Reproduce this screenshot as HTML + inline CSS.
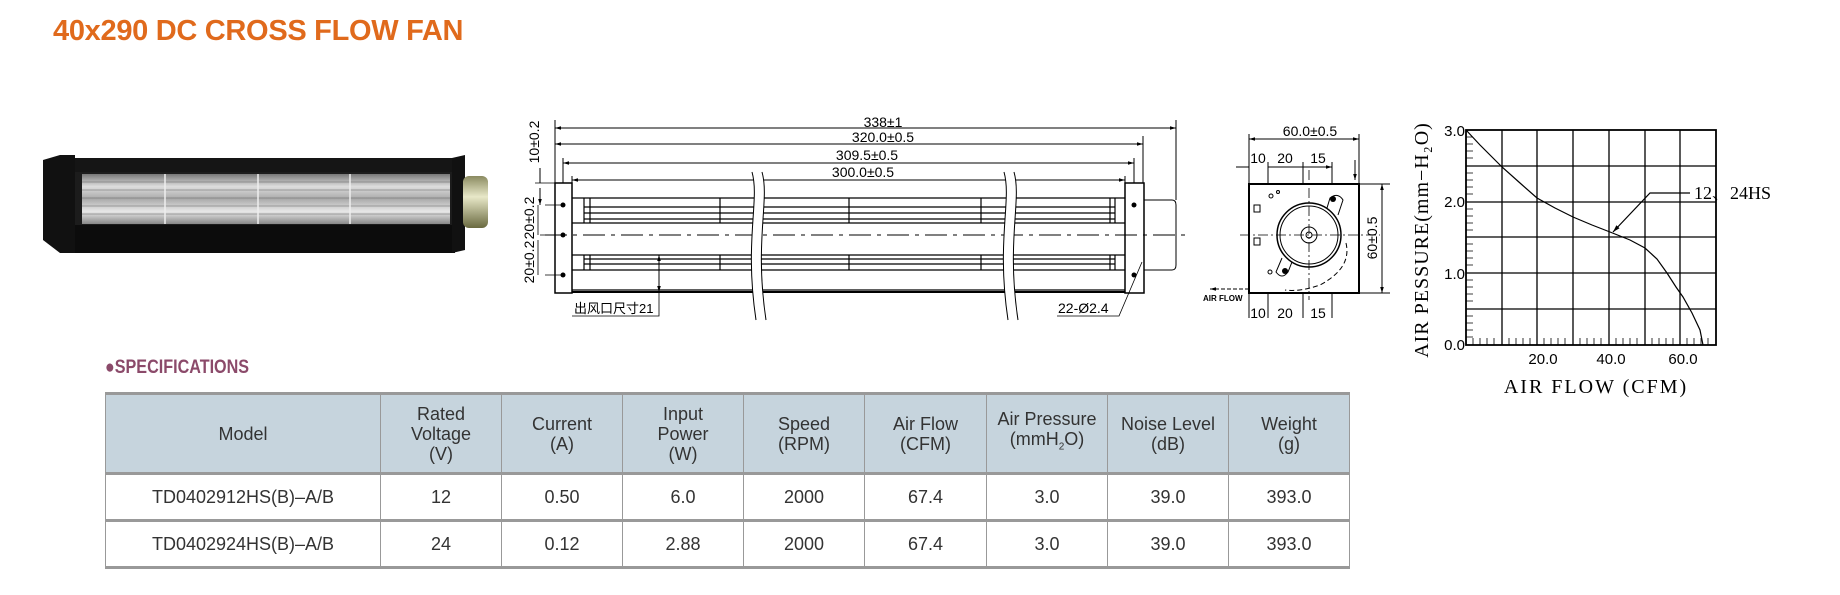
<!DOCTYPE html>
<html><head><meta charset="utf-8"><style>
body{margin:0;width:1840px;height:595px;background:#fff;position:relative;overflow:hidden;font-family:"Liberation Sans",sans-serif}
#t{position:absolute;left:53px;top:15px;font-size:29px;font-weight:bold;color:#e06a1c;white-space:nowrap;letter-spacing:-0.3px}
#s{position:absolute;left:105px;top:357px;font-size:19px;font-weight:bold;color:#8b4a6a;white-space:nowrap;transform:scaleX(0.85);transform-origin:left}
table{position:absolute;left:105px;top:392px;border-collapse:collapse;width:1244px;table-layout:fixed;color:#333;font-size:18px}
td{border:1px solid #999;text-align:center;padding:0;line-height:20px}
tr.h td{background:#c6d4dd;height:77px;border-bottom:3px solid #999;border-top:3px solid #999}
tr.r td{height:44px}
tr.r2 td{border-top:3px solid #999;border-bottom:3px solid #999}
svg{position:absolute;left:0;top:0}
</style></head><body>
<div id="t">40x290 DC CROSS FLOW FAN</div>
<svg width="1840" height="595" viewBox="0 0 1840 595" font-family="Liberation Sans, sans-serif">
<defs>
<linearGradient id="rot" x1="0" y1="0" x2="0" y2="1">
<stop offset="0" stop-color="#777"/><stop offset="0.25" stop-color="#ddd"/><stop offset="0.5" stop-color="#aaa"/><stop offset="0.75" stop-color="#e8e8e8"/><stop offset="1" stop-color="#888"/></linearGradient>
<linearGradient id="mot" x1="0" y1="0" x2="0" y2="1">
<stop offset="0" stop-color="#8a8a60"/><stop offset="0.4" stop-color="#e8e8c8"/><stop offset="1" stop-color="#6a6a40"/></linearGradient>
<marker id="a" viewBox="0 0 10 10" refX="10" refY="5" markerWidth="8" markerHeight="6" orient="auto-start-reverse"><path d="M0,2L10,5L0,8z" fill="#000"/></marker>
</defs>
<!-- photo -->
<polygon points="43,160 60,155 75,155 75,253 60,253 43,240" fill="#111"/>
<rect x="75" y="158" width="380" height="14" fill="#151515"/>
<rect x="75" y="225" width="380" height="28" fill="#0c0c0c"/>
<rect x="75" y="172" width="378" height="53" fill="#1c1c1c"/>
<rect x="82" y="174" width="368" height="50" fill="url(#rot)"/>
<g stroke="#666" stroke-width="0.8" opacity="0.7"><line x1="82" y1="182" x2="450" y2="182"/><line x1="82" y1="190" x2="450" y2="190"/><line x1="82" y1="198" x2="450" y2="198"/><line x1="82" y1="206" x2="450" y2="206"/><line x1="82" y1="214" x2="450" y2="214"/></g>
<g stroke="#eee" stroke-width="1.5"><line x1="165" y1="174" x2="165" y2="224"/><line x1="258" y1="174" x2="258" y2="224"/><line x1="350" y1="174" x2="350" y2="224"/></g>
<polygon points="452,158 465,155 465,250 452,253" fill="#111"/>
<rect x="463" y="176" width="25" height="52" rx="6" fill="url(#mot)"/>
<!-- main drawing dims -->
<g stroke="#000" stroke-width="1" fill="none">
<line x1="555" y1="128" x2="1176" y2="128" marker-start="url(#a)" marker-end="url(#a)"/>
<line x1="555" y1="144" x2="1143" y2="144" marker-start="url(#a)" marker-end="url(#a)"/>
<line x1="563" y1="163" x2="1134" y2="163" marker-start="url(#a)" marker-end="url(#a)"/>
<line x1="572" y1="180" x2="1125" y2="180" marker-start="url(#a)" marker-end="url(#a)"/>
<path d="M555,120V183M1176,120V200M1143,136V183M563,158V183M1134,158V183M572,176V183M1125,176V183"/>
<rect x="555" y="183" width="17" height="110" stroke-width="1.5"/>
<rect x="1125" y="183" width="19" height="110" stroke-width="1.5"/>
<path d="M1144,200H1172Q1176,200 1176,205V265Q1176,270 1172,270H1144"/>
<path d="M572,198H1125M584,207H1115M584,213H1115M584,219H1115M572,223H1125M572,255H1125M584,259H1115M584,264H1115M572,270H1125M572,290H1125" stroke-width="1.2"/>
<path d="M572,292H1125" stroke-width="2"/>
<path d="M584,198V223M590,198V223M720,198V223M849,198V223M981,198V223M1110,198V223M1115,198V223M584,255V270M590,255V270M720,255V270M849,255V270M981,255V270M1110,255V270M1115,255V270" stroke-width="1.2"/>
<line x1="545" y1="235" x2="1186" y2="235" stroke-dasharray="22,6,4,6"/>
<path d="M545,205H563M545,275H563M535,183H555M540,235H563" stroke-width="0.8"/>
<path d="M540,168V183M540,188V205" marker-end="url(#a)"/>
<path d="M538,205V235M538,240V275" stroke-width="0.8"/>
<path d="M659,255V292" marker-start="url(#a)" marker-end="url(#a)"/>
<path d="M659,292V316H572" stroke-width="0.8"/>
<path d="M1057,316H1119L1142,262" stroke-width="0.8"/>
</g>
<g fill="#fff" stroke="none"><path d="M752,172C760,200 744,240 756,320L766,320C754,240 770,200 762,172Z"/><path d="M1004,172C1012,200 996,240 1008,320L1018,320C1006,240 1022,200 1014,172Z"/></g>
<g stroke="#000" stroke-width="1" fill="none"><path d="M752,172C760,200 744,240 756,320M762,172C770,200 754,240 766,320M1004,172C1012,200 996,240 1008,320M1014,172C1022,200 1006,240 1018,320"/></g>
<g fill="#000"><circle cx="563" cy="205" r="2.5"/><circle cx="563" cy="235" r="2.5"/><circle cx="563" cy="275" r="2.5"/><circle cx="1134" cy="205" r="2.5"/><circle cx="1134" cy="275" r="2.5"/></g>
<g font-size="14" text-anchor="middle" fill="#000">
<text x="883" y="127">338±1</text><text x="883" y="142">320.0±0.5</text><text x="867" y="160">309.5±0.5</text><text x="863" y="177">300.0±0.5</text>
<text transform="translate(539,142) rotate(-90)">10±0.2</text>
<text transform="translate(534,218) rotate(-90)">20±0.2</text>
<text transform="translate(534,262) rotate(-90)">20±0.2</text>
</g>
<text x="574" y="313" font-size="13" font-family="Liberation Sans, Noto Sans CJK SC, sans-serif">出风口尺寸21</text>
<text x="1058" y="313" font-size="14">22-Ø2.4</text>
<!-- side view -->
<g stroke="#000" fill="none" stroke-width="1">
<rect x="1249" y="184" width="110" height="109" stroke-width="2"/>
<line x1="1249" y1="139" x2="1359" y2="139" marker-start="url(#a)" marker-end="url(#a)"/>
<path d="M1249,134V184M1359,134V184M1268,162V184M1303,162V184M1332,162V184M1268,293V318M1303,293V318M1332,293V318M1249,293V318"/>
<path d="M1236,167H1249M1268,167H1303M1303,167H1332" marker-end="url(#a)"/>
<path d="M1355,160V180" marker-end="url(#a)"/>
<line x1="1382" y1="184" x2="1382" y2="293" marker-start="url(#a)" marker-end="url(#a)"/>
<path d="M1359,184H1390M1359,293H1390"/>
<path d="M1240,235H1380M1309,170V300" stroke-dasharray="10,3,2,3" stroke-width="0.8"/>
<circle cx="1309" cy="235" r="32" stroke-width="1.5"/>
<circle cx="1309" cy="235" r="29"/>
<circle cx="1309" cy="235" r="8"/>
<circle cx="1309" cy="235" r="3"/>
<path d="M1327,208L1330,198Q1338,192 1343,200L1338,215"/>
<path d="M1292,262L1288,272Q1282,280 1276,272L1282,258"/>
<path d="M1346,243Q1352,268 1320,285Q1300,292 1285,290" stroke-dasharray="5,3"/>
<rect x="1254" y="205" width="6" height="7"/><rect x="1254" y="238" width="6" height="7"/>
<circle cx="1271" cy="196" r="2"/><circle cx="1278" cy="192" r="1.5"/><circle cx="1270" cy="272" r="2"/>
<path d="M1249,289H1210" stroke-dasharray="4,2" marker-end="url(#a)"/>
</g>
<g fill="#000"><circle cx="1333" cy="199" r="3"/><circle cx="1285" cy="271" r="3"/></g>
<g font-size="14" text-anchor="middle" fill="#000">
<text x="1310" y="136">60.0±0.5</text>
<text x="1258" y="163">10</text><text x="1285" y="163">20</text><text x="1318" y="163">15</text>
<text x="1258" y="318">10</text><text x="1285" y="318">20</text><text x="1318" y="318">15</text>
<text transform="translate(1377,238) rotate(-90)">60±0.5</text>
</g>
<text x="1203" y="301" font-size="8" font-weight="bold">AIR FLOW</text>
<!-- chart -->
<g stroke="#000" fill="none" stroke-width="1.3">
<rect x="1466" y="130" width="250" height="215" stroke-width="1.8"/>
<path d="M1502,130V345M1537,130V345M1573,130V345M1609,130V345M1645,130V345M1680,130V345M1466,166H1716M1466,202H1716M1466,237H1716M1466,273H1716M1466,309H1716"/>
</g>
<g stroke="#000" stroke-width="0.8">
<path d="M1466,137H1473M1466,144H1473M1466,151H1473M1466,158H1473M1466,173H1473M1466,180H1473M1466,187H1473M1466,194H1473M1466,209H1473M1466,216H1473M1466,223H1473M1466,230H1473M1466,244H1473M1466,251H1473M1466,258H1473M1466,265H1473M1466,280H1473M1466,287H1473M1466,294H1473M1466,301H1473M1466,316H1473M1466,323H1473M1466,330H1473M1466,337H1473"/>
<path d="M1473,345V338M1480,345V338M1487,345V338M1494,345V338M1509,345V338M1516,345V338M1523,345V338M1530,345V338M1544,345V338M1551,345V338M1558,345V338M1565,345V338M1580,345V338M1587,345V338M1594,345V338M1601,345V338M1616,345V338M1623,345V338M1630,345V338M1637,345V338M1652,345V338M1659,345V338M1666,345V338M1673,345V338M1687,345V338M1694,345V338M1701,345V338M1708,345V338"/>
</g>
<path d="M1466,130L1480,145L1492,157L1502,167L1520,183L1537,198L1555,208L1573,217L1592,225L1610,232L1630,240L1645,248L1657,259L1667,273L1676,287L1683,297L1692,313L1700,330L1703,345" stroke="#000" fill="none" stroke-width="1.2"/>
<path d="M1690,193H1650L1613,232" stroke="#000" fill="none" stroke-width="1.2" marker-end="url(#a)"/>
<g font-size="15" fill="#000" text-anchor="end"><text x="1465" y="136">3.0</text><text x="1465" y="207">2.0</text><text x="1465" y="279">1.0</text><text x="1465" y="350">0.0</text></g>
<g font-size="15" fill="#000" text-anchor="middle"><text x="1543" y="364">20.0</text><text x="1611" y="364">40.0</text><text x="1683" y="364">60.0</text></g>
<text x="1694" y="199" font-size="18" font-family="Liberation Serif, Noto Serif CJK SC, serif">12、24HS</text>
<text x="1596" y="393" font-size="20" text-anchor="middle" font-family="Liberation Serif, serif" letter-spacing="2">AIR FLOW (CFM)</text>
<text transform="translate(1428,240) rotate(-90)" font-size="20" text-anchor="middle" font-family="Liberation Serif, serif" letter-spacing="1">AIR PESSURE(mm−H₂O)</text>
</svg>
<div id="s">●SPECIFICATIONS</div>
<table>
<colgroup><col style="width:275px"><col style="width:121px"><col style="width:121px"><col style="width:121px"><col style="width:121px"><col style="width:122px"><col style="width:121px"><col style="width:121px"><col style="width:121px"></colgroup>
<tr class="h"><td>Model</td><td>Rated<br>Voltage<br>(V)</td><td>Current<br>(A)</td><td>Input<br>Power<br>(W)</td><td>Speed<br>(RPM)</td><td>Air Flow<br>(CFM)</td><td>Air Pressure<br>(mmH<sub style="font-size:10px">2</sub>O)</td><td>Noise Level<br>(dB)</td><td>Weight<br>(g)</td></tr>
<tr class="r"><td>TD0402912HS(B)–A/B</td><td>12</td><td>0.50</td><td>6.0</td><td>2000</td><td>67.4</td><td>3.0</td><td>39.0</td><td>393.0</td></tr>
<tr class="r r2"><td>TD0402924HS(B)–A/B</td><td>24</td><td>0.12</td><td>2.88</td><td>2000</td><td>67.4</td><td>3.0</td><td>39.0</td><td>393.0</td></tr>
</table>
</body></html>
